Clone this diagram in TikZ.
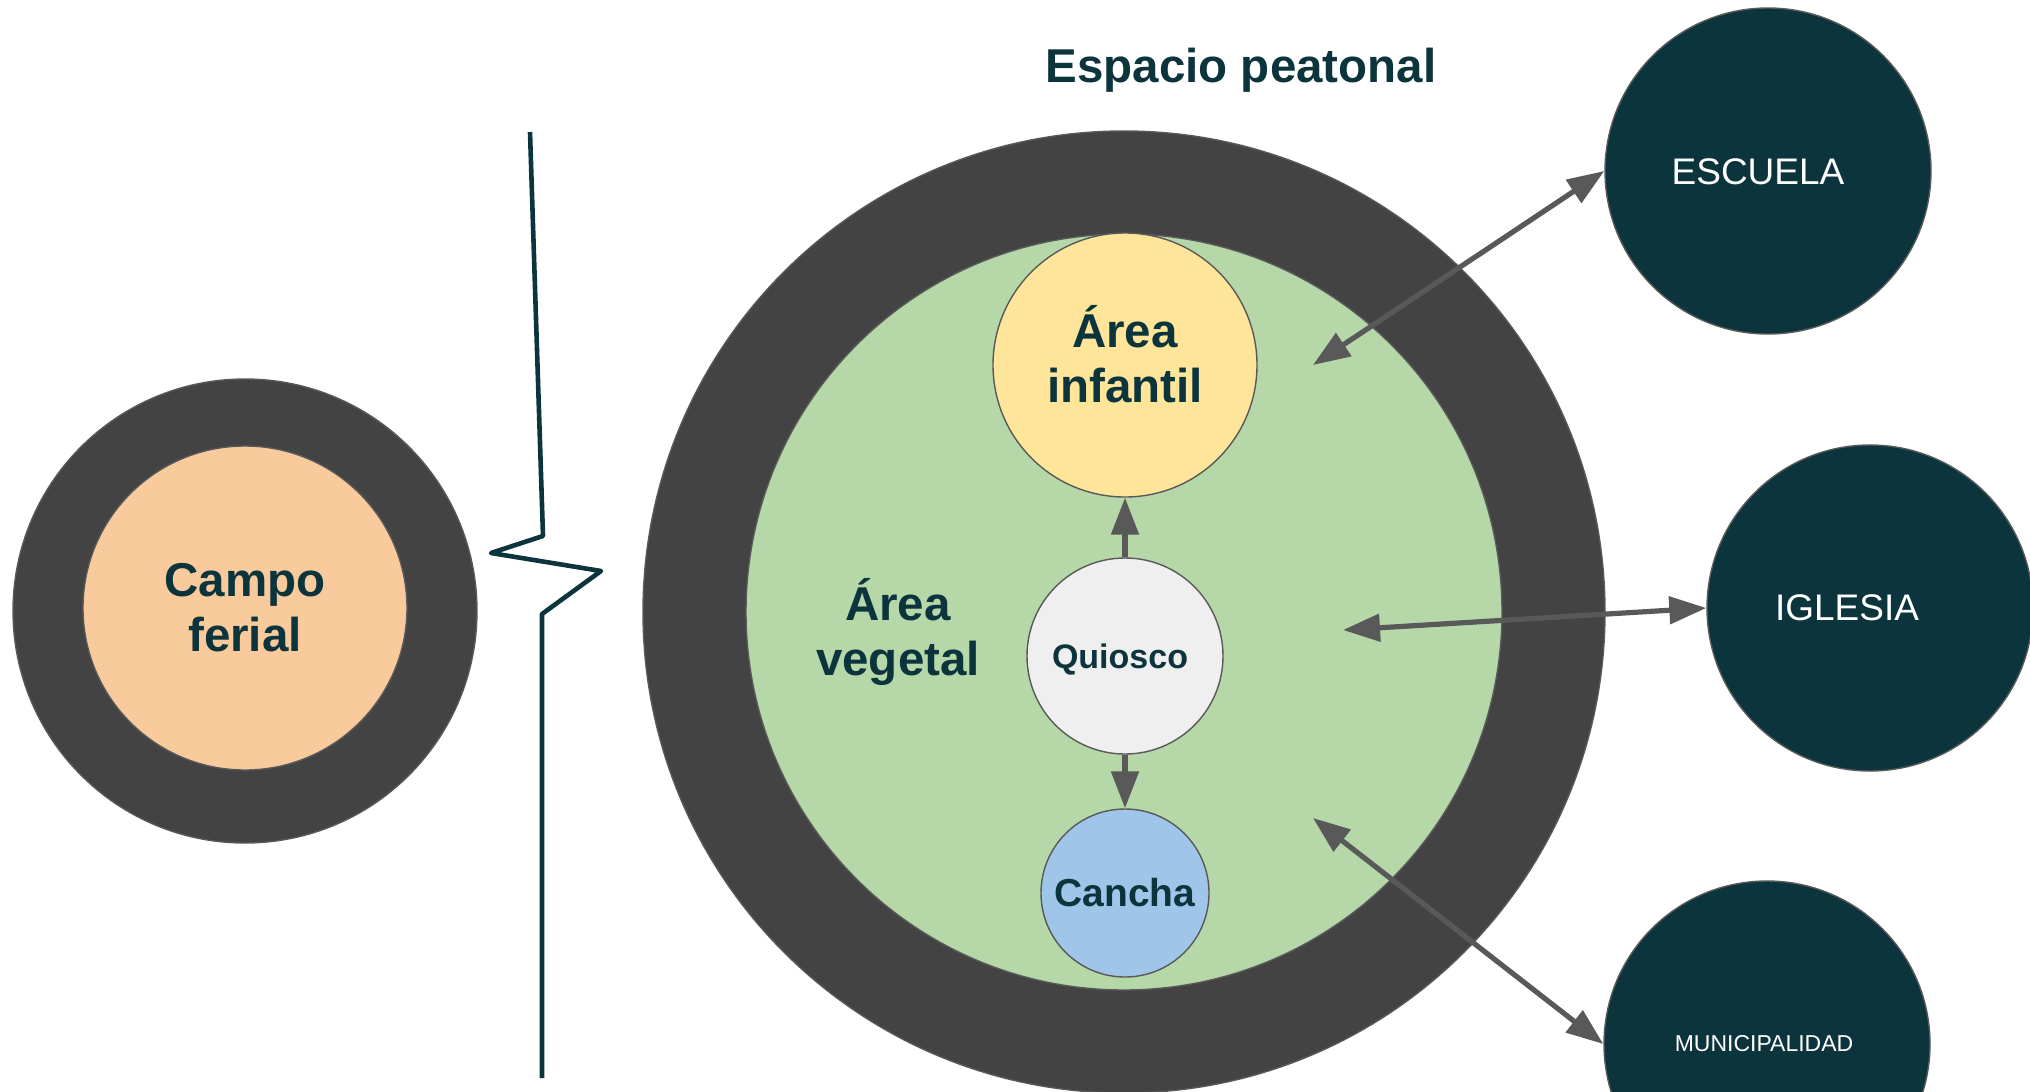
\documentclass[tikz,border=0pt]{standalone}
\usepackage{fontspec}
\setmainfont{Liberation Sans}
\usetikzlibrary{arrows.meta}
\definecolor{petrol}{HTML}{0C343D}
\definecolor{ringgray}{HTML}{434343}
\definecolor{edgegray}{HTML}{595959}
\definecolor{leaf}{HTML}{B6D7A8}
\definecolor{sand}{HTML}{FFE599}
\definecolor{peach}{HTML}{F9CB9C}
\definecolor{sky}{HTML}{9FC5E8}
\definecolor{chalk}{HTML}{EFEFEF}
\newcommand{\zonefont}{\fontsize{23.75}{27.5}\selectfont\bfseries}
\newcommand{\sitefont}{\fontsize{18.5}{22}\selectfont}

\begin{document}
\begin{tikzpicture}[x=.5pt,y=-.5pt,
  zone/.style={circle,draw=edgegray,line width=.7pt,inner sep=0pt,text=petrol,align=center},
  zonename/.style={text=petrol,font=\zonefont,align=center},
  site/.style={circle,draw=edgegray,line width=.7pt,inner sep=0pt,fill=petrol,minimum size=163pt},
  sitename/.style={text=white,font=\sitefont},
  link/.style={draw=edgegray,line width=2.6pt},
  oneway/.style={-{Triangle[length=18.5pt,width=13.5pt]}},
  twoway/.style={{Triangle[length=18.5pt,width=13.5pt]}-{Triangle[length=18.5pt,width=13.5pt]}}]
\clip (0,0) rectangle (2030,1092);
\node[zone,fill=ringgray,minimum size=232pt] (feriaring) at (245,611) {};
\node[zone,fill=peach,minimum size=162pt,font=\zonefont] (feria) at (245,608) {Campo\\ferial};
\draw[petrol,line width=2.3pt,line join=round] (530,132) -- (543,536) -- (491,553) -- (601,571) -- (542,614) -- (542,1078);
\node[zone,fill=ringgray,minimum size=481pt] (plaza) at (1124,612) {};
\node[zone,fill=leaf,minimum size=378pt] (verde) at (1124,612) {};
\node[zonename] (vegetal) at (898,632) {Área\\vegetal};
\node[zone,fill=sand,minimum size=132pt] (infantil) at (1125,365) {};
\node[zonename] (infantilname) at (1125,354) {Área\\infantil};
\node[zone,fill=chalk,minimum size=98pt] (quiosco) at (1125,656) {};
\node[text=petrol,font=\fontsize{17}{20}\selectfont\bfseries] (quiosconame) at (1120,660) {Quiosco};
\node[zone,fill=sky,minimum size=84pt,font=\fontsize{19.5}{23}\selectfont\bfseries] (cancha) at (1125,893) {Cancha};
\node[zonename,anchor=base] (titulo) at (1241,83) {Espacio peatonal};
\node[site] (escuela) at (1768,171) {};
\node[sitename] (escuelaname) at (1758,172) {ESCUELA};
\node[site] (iglesia) at (1870,608) {};
\node[sitename] (iglesianame) at (1847,608) {IGLESIA};
\node[site] (muni) at (1767,1044) {};
\node[sitename,font=\fontsize{11.5}{14}\selectfont] (muniname) at (1764,1044) {MUNICIPALIDAD};
\coordinate (escuelain) at (1313,365);
\coordinate (iglesiain) at (1343,630);
\coordinate (muniin) at (1313,818);
\draw[link,oneway] (quiosco) -- (infantil);
\draw[link,oneway] (quiosco) -- (cancha);
\draw[link,twoway] (escuelain) -- (escuela.west);
\draw[link,twoway] (iglesiain) -- (iglesia.west);
\draw[link,twoway] (muniin) -- (muni.west);
\end{tikzpicture}
\end{document}
